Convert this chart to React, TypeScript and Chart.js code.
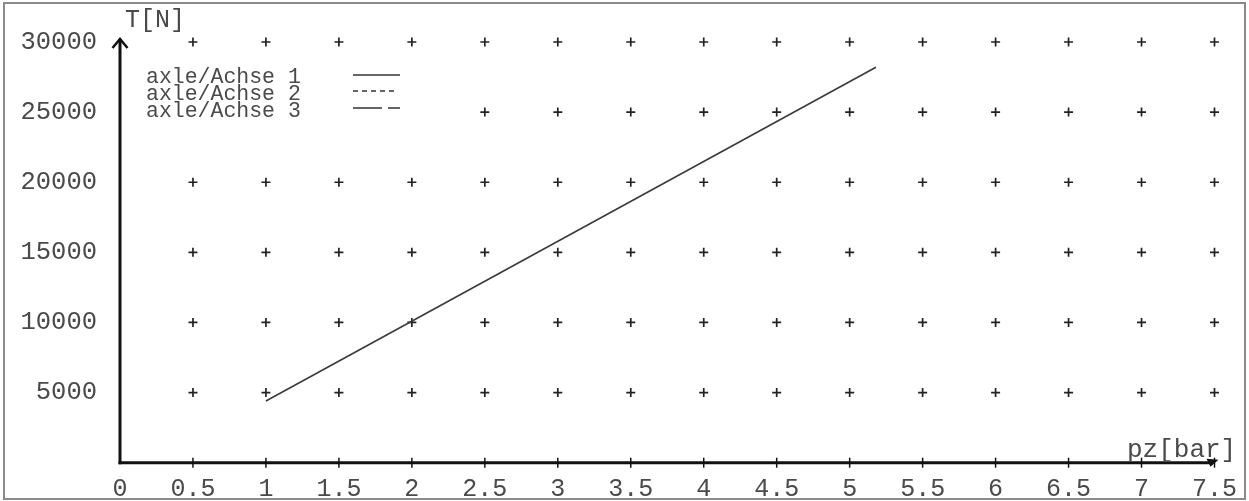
import React, { useEffect, useRef } from "react";
import { Chart, registerables } from "chart.js";

Chart.register(...registerables);

// ---- data ----
const seriesLabels = ["axle/Achse 1", "axle/Achse 2", "axle/Achse 3"];
const axle1X = [1, 5.18];
const axle1Y = [4400, 28200];
const xMin = 0;
const xMax = 7.5;
const xStep = 0.5;
const yMin = 0;
const yMax = 30000;
const yStep = 5000;
const xTitle = "pz[bar]";
const yTitle = "T[N]";

const FONT = "'Liberation Mono', 'Courier New', 'DejaVu Sans Mono', monospace";
const TEXT = "#4a4a4a";

const LEGEND_BOX = { x0: 140, y0: 60, x1: 420, y1: 122 };

const overlay = {
  id: "overlay",
  beforeDatasetsDraw(chart: any) {
    const { ctx, scales } = chart;
    const x = scales.x;
    const y = scales.y;
    ctx.save();
    ctx.strokeStyle = "#222";
    ctx.lineWidth = 1.7;
    x.ticks.forEach((t: any) => {
      if (t.value === 0) return;
      y.ticks.forEach((u: any) => {
        if (u.value === 0) return;
        const px = x.getPixelForValue(t.value);
        const py = y.getPixelForValue(u.value);
        if (px > LEGEND_BOX.x0 && px < LEGEND_BOX.x1 && py > LEGEND_BOX.y0 && py < LEGEND_BOX.y1) return;
        ctx.beginPath();
        ctx.moveTo(px - 4.5, py);
        ctx.lineTo(px + 4.5, py);
        ctx.moveTo(px, py - 4.5);
        ctx.lineTo(px, py + 4.5);
        ctx.stroke();
      });
    });
    ctx.restore();
  },
  afterDraw(chart: any) {
    const { ctx, scales, data } = chart;
    const x = scales.x;
    const y = scales.y;
    const x0 = x.getPixelForValue(xMin);
    const xEnd = x.getPixelForValue(xMax);
    const y0 = y.getPixelForValue(yMin);
    const yTop = y.getPixelForValue(yMax);
    ctx.save();
    // axes
    ctx.strokeStyle = "#111";
    ctx.fillStyle = "#111";
    ctx.lineWidth = 3;
    ctx.lineCap = "butt";
    ctx.beginPath();
    ctx.moveTo(x0, y0 + 1.5);
    ctx.lineTo(x0, yTop - 3);
    ctx.stroke();
    ctx.beginPath();
    ctx.moveTo(x0 - 1.5, y0);
    ctx.lineTo(xEnd - 2, y0);
    ctx.stroke();
    // y arrow (chevron)
    ctx.lineWidth = 2.5;
    ctx.beginPath();
    ctx.moveTo(x0 - 7.5, yTop + 6);
    ctx.lineTo(x0, yTop - 3);
    ctx.lineTo(x0 + 7.5, yTop + 6);
    ctx.stroke();
    // x arrow
    ctx.beginPath();
    ctx.moveTo(xEnd + 4, y0 - 3);
    ctx.lineTo(xEnd - 8, y0 - 4);
    ctx.lineTo(xEnd - 4, y0 + 4);
    ctx.closePath();
    ctx.fill();
    // x tick marks
    ctx.lineWidth = 1.5;
    x.ticks.forEach((t: any) => {
      if (t.value === 0) return;
      const px = x.getPixelForValue(t.value);
      ctx.beginPath();
      ctx.moveTo(px, y0 - 5);
      ctx.lineTo(px, y0 + 5);
      ctx.stroke();
    });
    // axis titles
    ctx.fillStyle = TEXT;
    ctx.font = `25px ${FONT}`;
    ctx.textBaseline = "middle";
    ctx.textAlign = "left";
    ctx.fillText(yTitle, x0 + 5, 20);
    ctx.font = `26px ${FONT}`;
    ctx.fillText(xTitle, 1127, 450);
    // legend
    ctx.font = `21.5px ${FONT}`;
    const rows = [77, 94, 111];
    const lineRows = [75, 91, 108];
    data.datasets.forEach((ds: any, i: number) => {
      ctx.fillStyle = TEXT;
      ctx.fillText(ds.label, 146, rows[i]);
      ctx.strokeStyle = "#333";
      ctx.lineWidth = 1.6;
      ctx.setLineDash(ds.borderDash || []);
      ctx.beginPath();
      ctx.moveTo(353, lineRows[i]);
      ctx.lineTo(i === 1 ? 396 : 400, lineRows[i]);
      ctx.stroke();
    });
    ctx.setLineDash([]);
    // frame
    ctx.strokeStyle = "#8a8a8a";
    ctx.lineWidth = 2;
    ctx.strokeRect(4, 3, 1241, 496);
    ctx.restore();
  },
};

export default function App() {
  const ref = useRef<HTMLCanvasElement | null>(null);
  useEffect(() => {
    if (!ref.current) return;
    const chart = new Chart(ref.current, {
      type: "scatter",
      data: {
        datasets: [
          {
            label: seriesLabels[0],
            data: axle1X.map((v, i) => ({ x: v, y: axle1Y[i] })),
            showLine: true,
            borderColor: "#3a3a3a",
            borderWidth: 1.6,
            pointRadius: 0,
            borderDash: [],
          },
          {
            label: seriesLabels[1],
            data: [],
            showLine: true,
            borderColor: "#3a3a3a",
            borderWidth: 1.6,
            pointRadius: 0,
            borderDash: [5, 4],
          },
          {
            label: seriesLabels[2],
            data: [],
            showLine: true,
            borderColor: "#3a3a3a",
            borderWidth: 1.6,
            pointRadius: 0,
            borderDash: [29, 6, 12, 100],
          },
        ],
      },
      options: {
        responsive: false,
        animation: false,
        devicePixelRatio: 1,
        layout: { padding: { left: 0, top: 42, right: 34, bottom: 0 } },
        plugins: { legend: { display: false }, tooltip: { enabled: false } },
        scales: {
          x: {
            type: "linear",
            min: xMin,
            max: xMax,
            border: { display: false },
            grid: { display: false, drawTicks: false },
            ticks: {
              stepSize: xStep,
              padding: 12,
              color: TEXT,
              font: { family: FONT, size: 25 },
              maxRotation: 0,
              autoSkip: false,
              callback: (v: any) => String(v),
            },
            afterFit: (s: any) => {
              s.height = 36;
            },
          },
          y: {
            type: "linear",
            min: yMin,
            max: yMax,
            border: { display: false },
            grid: { display: false, drawTicks: false },
            ticks: {
              stepSize: yStep,
              padding: 23,
              color: TEXT,
              font: { family: FONT, size: 25.5 },
              callback: (v: any) => (v === 0 ? "" : String(v)),
            },
            afterFit: (s: any) => {
              s.width = 120;
            },
          },
        },
      },
      plugins: [overlay],
    });
    return () => chart.destroy();
  }, []);
  return (
    <div style={{ position: "absolute", left: 0, top: 0, width: 1249, height: 501, background: "#fff" }}>
      <canvas ref={ref} width={1249} height={501} />
    </div>
  );
}
